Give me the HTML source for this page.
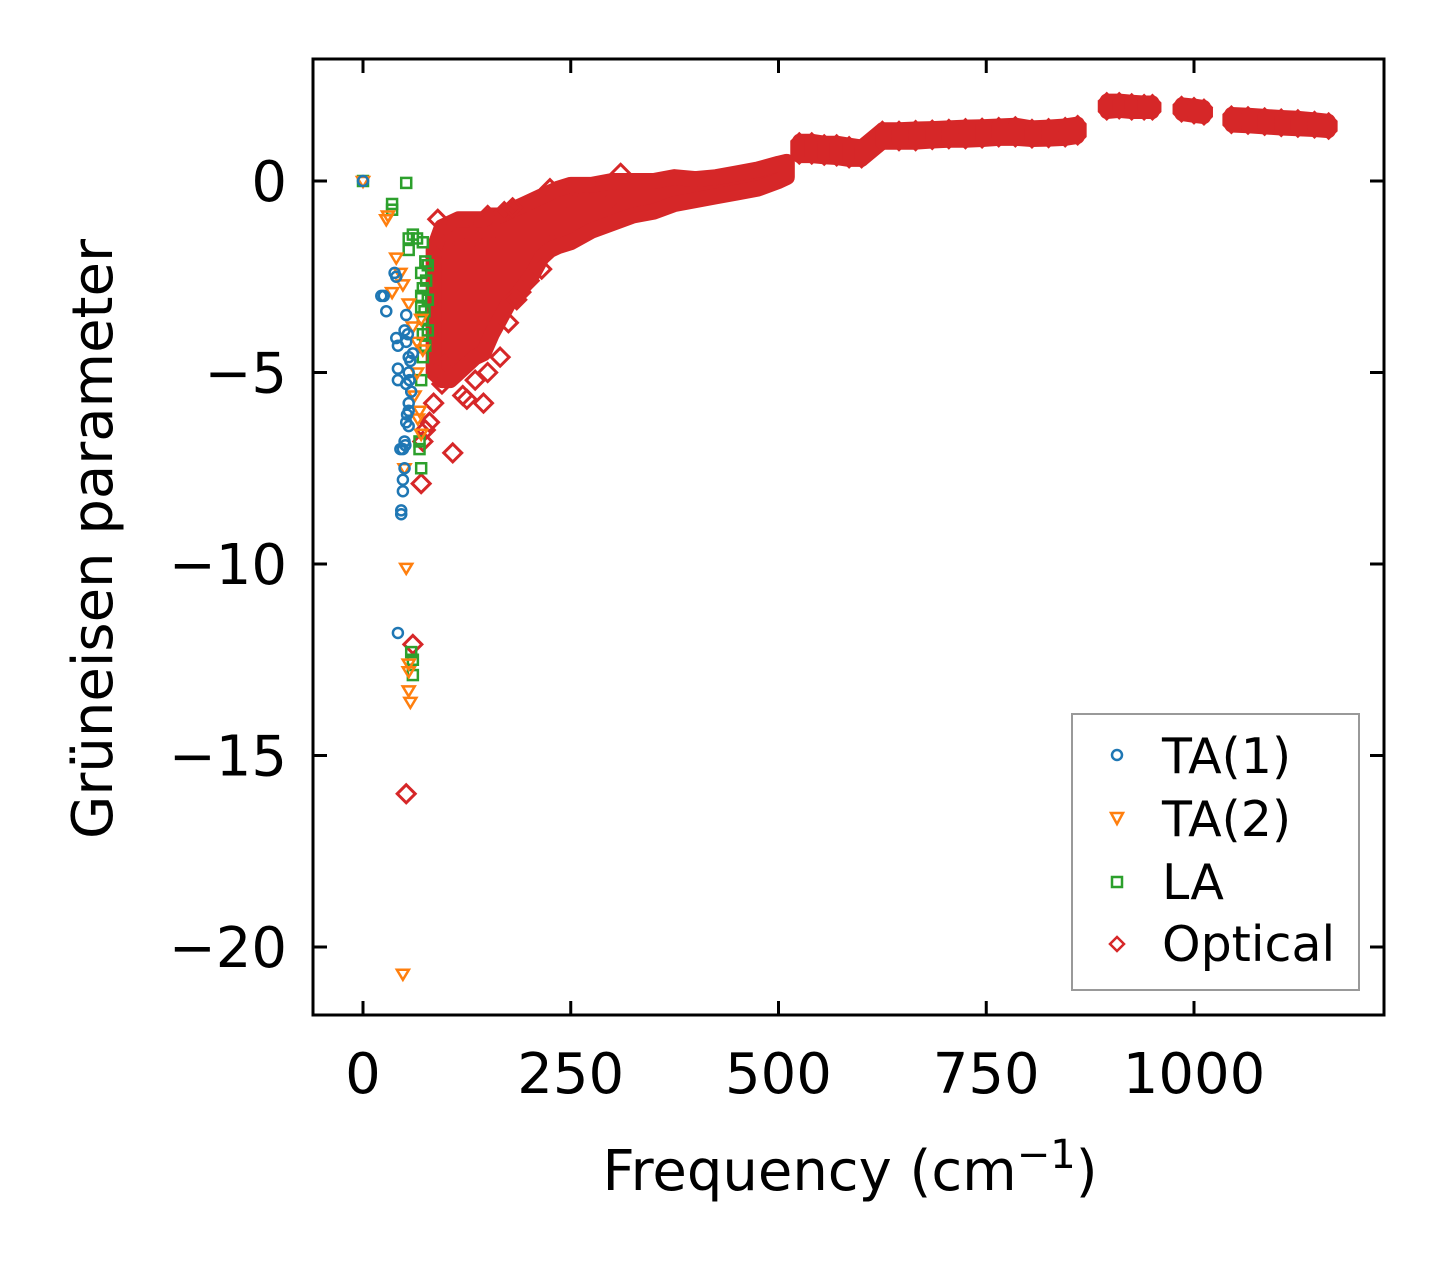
<!DOCTYPE html>
<html><head><meta charset="utf-8"><style>
html,body{margin:0;padding:0;background:#fff;}
svg{display:block;font-family:"DejaVu Sans","Liberation Sans",sans-serif;}
</style></head><body>
<svg id="chart" width="1443" height="1264" viewBox="0 0 1443 1264">
<g id="marks"></g>
<rect x="313" y="59" width="1071" height="956" fill="none" stroke="#000" stroke-width="3"/>
<g id="axes"></g>
<text x="850" y="1190" text-anchor="middle" font-size="56">Frequency (cm<tspan dy="-22" font-size="40">−1</tspan><tspan dy="22">)</tspan></text>
<text transform="translate(112,539) rotate(-90)" text-anchor="middle" font-size="56">Grüneisen parameter</text>
<g>
<rect x="1072" y="714" width="287" height="276" fill="#fff" stroke="#999" stroke-width="2"/>
<g><circle cx="1117" cy="755" r="5" fill="none" stroke="#1f77b4" stroke-width="2.5"/><text x="1162" y="773" font-size="49">TA(1)</text></g>
<g><path d="M1111,813 L1123,813 L1117,824 Z" fill="none" stroke="#ff7f0e" stroke-width="2.5"/><text x="1162" y="836" font-size="49">TA(2)</text></g>
<g><rect x="1112" y="877" width="10" height="10" fill="none" stroke="#2ca02c" stroke-width="2.5"/><text x="1162" y="899" font-size="49">LA</text></g>
<g><path d="M1117,937 L1124,944 L1117,951 L1110,944 Z" fill="none" stroke="#d62728" stroke-width="2.5"/><text x="1162" y="961" font-size="49">Optical</text></g>
</g>
</svg>
<script>
const xTicks=[0,250,500,750,1000];
const yTicks=[0,-5,-10,-15,-20];
const yTickLabels=["0","−5","−10","−15","−20"];
const ta1X=[0,22,25,28,38,40,40,42,42,42,45,48,48,46,46,42,50,52,52,55,55,52,55,55,52,50,55,58,57,60,50,48,53,56,54,51];
const ta1Y=[0,-3,-3,-3.4,-2.4,-2.5,-4.1,-4.3,-4.9,-5.2,-7,-7.8,-8.1,-8.6,-8.7,-11.8,-3.9,-3.5,-4.2,-4.6,-5,-5.3,-5.8,-6,-6.3,-6.8,-6.4,-5.5,-4.7,-4.5,-7.5,-7,-6.1,-5.2,-4.0,-6.9];
const ta2X=[0,28,30,40,45,48,35,55,60,65,65,68,70,50,52,55,55,55,57,48,70,72,62,66];
const ta2Y=[0,-1,-0.9,-2,-2.4,-2.7,-2.9,-3.2,-3.8,-4.2,-5,-6,-6.6,-7.5,-10.1,-12.6,-12.8,-13.3,-13.6,-20.7,-3.6,-4.4,-5.6,-6.2];
const laX=[0,35,35,52,55,55,60,65,72,75,70,72,70,70,72,72,75,72,70,68,68,70,58,60,60,78,78,78,74,76];
const laY=[0,-0.6,-0.75,-0.05,-1.5,-1.8,-1.4,-1.5,-1.6,-2.1,-2.4,-2.8,-3,-3.3,-3.6,-4,-4.3,-4.6,-5.2,-6.8,-7,-7.5,-12.3,-12.5,-12.9,-2.2,-3.1,-3.9,-3.4,-2.6];
const optX=[60,52,70,108,85,75,72,80,90,100,110,120,130,140,150,160,170,180,95,125,145,165,185,200,215,230,245,260,280,300,310,120,135,150,175,190,225,88,98];
const optY=[-12.1,-16,-7.9,-7.1,-5.8,-6.5,-6.8,-6.3,-1.0,-1.3,-1.4,-1.2,-1.5,-1.1,-0.9,-1.3,-0.8,-0.7,-5.3,-5.7,-5.8,-4.6,-3.1,-2.6,-2.3,-1.6,-0.4,-0.5,-0.3,-0.4,0.2,-5.6,-5.2,-5.0,-3.7,-2.9,-0.2,-2.0,-4.8];
const bandX=[85,95,105,115,125,135,145,155,165,175,185,195,205,215,225,235,250,275,300,325,350,375,400,425,450,475,500,510];
const bandHi=[-1.8,-1.2,-1.1,-1.0,-1.0,-1.0,-1.0,-0.9,-0.9,-0.8,-0.7,-0.6,-0.5,-0.4,-0.3,-0.2,-0.1,-0.1,0,0,0,0.1,0.05,0.1,0.2,0.3,0.45,0.5];
const bandLo=[-5.0,-5.2,-5.2,-5.0,-4.8,-4.6,-4.5,-4.0,-3.6,-3.2,-3.0,-2.7,-2.4,-2.0,-1.8,-1.7,-1.6,-1.3,-1.1,-0.9,-0.8,-0.6,-0.5,-0.4,-0.3,-0.2,0.0,0.1];
const hiX=[525,540,555,570,585,600,625,645,665,685,705,725,745,765,785,805,825,845,860,895,910,925,940,950,985,1000,1012,1045,1065,1085,1105,1125,1145,1162];
const hiYTop=[1.05,1.05,1.0,1.0,0.95,0.9,1.35,1.35,1.37,1.38,1.4,1.42,1.43,1.45,1.47,1.4,1.42,1.45,1.5,2.1,2.1,2.07,2.05,2.05,2.0,1.97,1.93,1.75,1.73,1.7,1.67,1.65,1.61,1.57];
const hiYBot=[0.65,0.65,0.62,0.6,0.55,0.55,1.0,1.0,1.0,1.03,1.05,1.05,1.07,1.1,1.1,1.07,1.08,1.1,1.15,1.8,1.83,1.8,1.8,1.8,1.75,1.7,1.67,1.45,1.43,1.4,1.37,1.35,1.33,1.3];
const X0=363,XS=(1194-363)/1000,Y0=181,YS=(947-181)/20;
const sx=v=>X0+v*XS, sy=v=>Y0-v*YS;
const NS='http://www.w3.org/2000/svg';
const marks=document.getElementById('marks'), axes=document.getElementById('axes');
function mk(tag,attrs,parent){const e=document.createElementNS(NS,tag);for(const k in attrs)e.setAttribute(k,attrs[k]);parent.appendChild(e);return e;}
let d='M'+bandX.map((x,i)=>sx(x)+','+sy(bandHi[i])).join(' L');
for(let i=bandX.length-1;i>=0;i--)d+=' L'+sx(bandX[i])+','+sy(bandLo[i]);
const band=mk('path',{d:d+'Z',fill:'#d62728',stroke:'#d62728','stroke-width':16,'stroke-linejoin':'round'},marks);


function diamond(x,y,name){const cx=sx(x),cy=sy(y);const p=mk('path',{d:`M${cx},${cy-9} L${cx+9},${cy} L${cx},${cy+9} L${cx-9},${cy} Z`,fill:'none',stroke:'#d62728','stroke-width':3},marks);

}
hiX.forEach((x,i)=>{const cx=sx(x),t=sy(hiYTop[i]),b=sy(hiYBot[i]);
const r=mk('path',{d:`M${cx},${t-9} L${cx+9},${t} L${cx+9},${b} L${cx},${b+9} L${cx-9},${b} L${cx-9},${t}Z`,fill:'#d62728'},marks);

});
for(let i=0;i<hiX.length-1;i++){if(hiX[i+1]-hiX[i]>30)continue;
const q=mk('path',{d:`M${sx(hiX[i])},${sy(hiYTop[i])} L${sx(hiX[i+1])},${sy(hiYTop[i+1])} L${sx(hiX[i+1])},${sy(hiYBot[i+1])} L${sx(hiX[i])},${sy(hiYBot[i])}Z`,fill:'#d62728',stroke:'#d62728','stroke-width':14,'stroke-linejoin':'round'},marks);

}
optX.forEach((x,i)=>diamond(x,optY[i],'optical-point'));
laX.forEach((x,i)=>{const r=mk('rect',{x:sx(x)-5,y:sy(laY[i])-5,width:10,height:10,fill:'none',stroke:'#2ca02c','stroke-width':2.5},marks);

});
ta2X.forEach((x,i)=>{const cx=sx(x),cy=sy(ta2Y[i]);const p=mk('path',{d:`M${cx-6},${cy-4} L${cx+6},${cy-4} L${cx},${cy+6}Z`,fill:'none',stroke:'#ff7f0e','stroke-width':2.5},marks);

});
ta1X.forEach((x,i)=>{const c=mk('circle',{cx:sx(x),cy:sy(ta1Y[i]),r:5,fill:'none',stroke:'#1f77b4','stroke-width':2.5},marks);

});
xTicks.forEach(v=>{const x=sx(v);
const t=mk('path',{d:`M${x},1015 v-14 M${x},59 v14`,stroke:'#000','stroke-width':3},axes);


const l=mk('text',{x:x,y:1093,'text-anchor':'middle','font-size':56},axes);l.textContent=String(v);

});
yTicks.forEach((v,i)=>{const y=sy(v);
const t=mk('path',{d:`M313,${y} h14 M1384,${y} h-14`,stroke:'#000','stroke-width':3},axes);


const l=mk('text',{x:287,y:y+20,'text-anchor':'end','font-size':56},axes);l.textContent=yTickLabels[i];

});
</script>
</body></html>
